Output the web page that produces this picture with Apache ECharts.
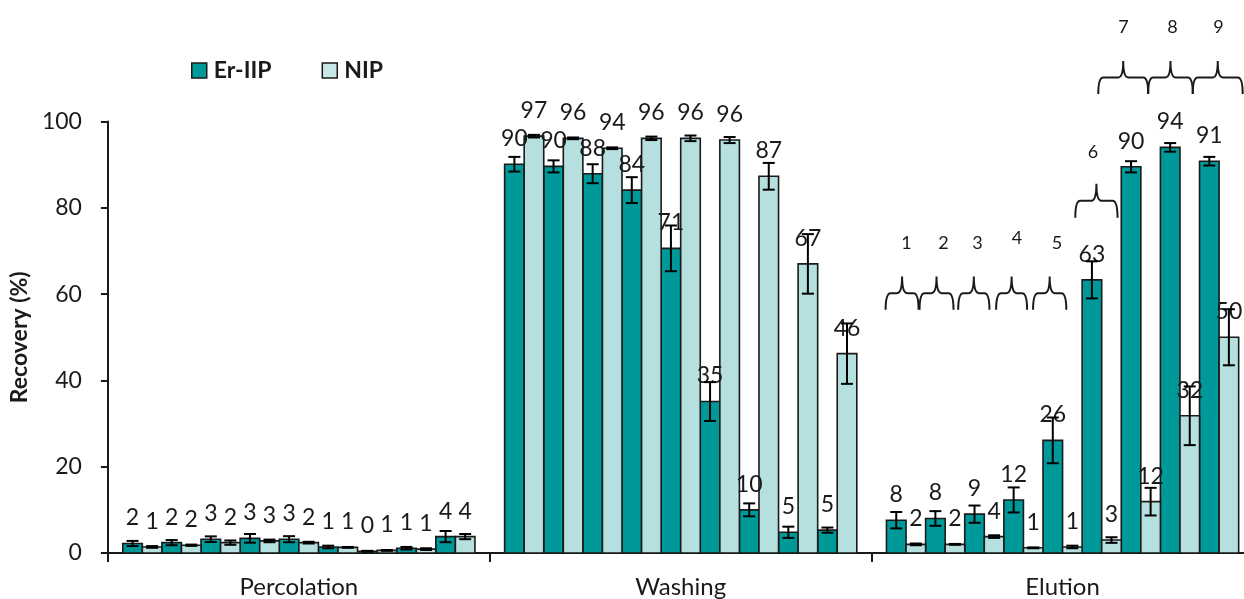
<!DOCTYPE html>
<html>
<head>
<meta charset="utf-8">
<script src="https://cdn.jsdelivr.net/npm/echarts/dist/echarts.min.js"></script>
<style>
html,body{margin:0;padding:0;background:#fff;overflow:hidden;}
#chart{width:1270px;height:599px;}
</style>
</head>
<body>
<div id="chart"></div>
<script>
// ---------------- data ----------------
const stages = ['Percolation', 'Washing', 'Elution'];
const seriesNames = ['Er-IIP', 'NIP'];
const yTicks = [0, 20, 40, 60, 80, 100];

// 9 steps per stage, 27 values in stage order
const erIIP = [2.2, 2.4, 3.2, 3.4, 3.2, 1.4, 0.4, 1.1, 3.8,
               90.1, 89.6, 87.9, 84.1, 70.6, 35.1, 10.0, 4.8, 5.3,
               7.6, 8.0, 9.0, 12.3, 26.1, 63.3, 89.5, 94.0, 90.8];
const erIIPErr = [0.6, 0.6, 0.65, 1.0, 0.7, 0.3, 0.1, 0.3, 1.3,
                  1.7, 1.4, 2.2, 3.0, 5.3, 4.5, 1.5, 1.3, 0.6,
                  1.9, 1.7, 2.0, 2.9, 5.3, 4.3, 1.3, 1.0, 1.0];
const nip = [1.4, 1.8, 2.4, 2.8, 2.4, 1.3, 0.6, 0.9, 3.8,
             96.6, 96.1, 93.8, 96.1, 96.1, 95.7, 87.3, 67.0, 46.2,
             2.0, 2.0, 3.8, 1.2, 1.4, 3.0, 11.9, 31.8, 50.0];
const nipErr = [0.2, 0.15, 0.5, 0.3, 0.2, 0.1, 0.1, 0.2, 0.6,
                0.3, 0.2, 0.2, 0.4, 0.65, 0.7, 3.1, 6.9, 7.0,
                0.2, 0.1, 0.3, 0.1, 0.3, 0.65, 3.2, 6.8, 6.5];

// annotation braces (numbers 1..9) in data units: [x0, x1, yEnd, yTip, labelX, labelY]
const braceNumbers = ['1', '2', '3', '4', '5', '6', '7', '8', '9'];
const braceLayout = [
  [2.0366, 2.1229, 56.4, 64.05, 2.0915, 71.9],
  [2.1255, 2.2144, 56.4, 64.05, 2.1882, 71.9],
  [2.2267, 2.3085, 56.4, 64.05, 2.2771, 71.9],
  [2.3260, 2.4071, 56.4, 64.05, 2.3809, 73.0],
  [2.4227, 2.5098, 56.4, 64.05, 2.4855, 71.9],
  [2.5333, 2.6439, 77.7, 85.55, 2.5796, 93.0],
  [2.5935, 2.7242, 106.4, 114.0, 2.6596, 121.9],
  [2.7242, 2.8410, 106.4, 114.0, 2.7877, 121.9],
  [2.8410, 2.9717, 106.4, 114.0, 2.9080, 121.9]
];

// ---------------- styles ----------------
const FONT = 'Lato, "Open Sans", sans-serif';
const INK = '#1a1a1a';
const colors = ['#009999', '#b6e0e0'];
const PER_STAGE = 9;
const SLOT_W = 0.05124;                       // bar width in stage units
const MARGIN = (1 - 2 * PER_STAGE * SLOT_W) / 2;

function slotX(i, s) {
  const g = Math.floor(i / PER_STAGE), p = i % PER_STAGE;
  return g + MARGIN + (2 * p + s) * SLOT_W;
}

function barRenderer(s) {
  return function (params, api) {
    const i = api.value(0), v = api.value(1);
    const x0 = slotX(i, s);
    const tl = api.coord([x0, v]);
    const br = api.coord([x0 + SLOT_W, 0]);
    return {
      type: 'rect',
      shape: { x: tl[0], y: tl[1], width: br[0] - tl[0], height: br[1] - tl[1] },
      style: { fill: colors[s], stroke: INK, lineWidth: 1.6 }
    };
  };
}

function errRenderer(s) {
  return function (params, api) {
    const i = api.value(0), v = api.value(1), e = api.value(2);
    const xc = slotX(i, s) + SLOT_W / 2;
    const top = api.coord([xc, v]);
    const hi = api.coord([xc, v + e]);
    const lo = api.coord([xc, v - e]);
    const cap = 6;
    const lw = 2;
    return {
      type: 'group',
      children: [
        { type: 'text', z2: 1,
          style: { text: String(Math.round(v)), x: top[0], y: top[1] - 14,
                   align: 'center', verticalAlign: 'bottom',
                   fontFamily: FONT, fontSize: 23, fill: INK } },
        { type: 'line', z2: 2, shape: { x1: hi[0], y1: hi[1], x2: lo[0], y2: lo[1] },
          style: { stroke: '#000', lineWidth: lw } },
        { type: 'line', z2: 2, shape: { x1: hi[0] - cap, y1: hi[1], x2: hi[0] + cap, y2: hi[1] },
          style: { stroke: '#000', lineWidth: lw } },
        { type: 'line', z2: 2, shape: { x1: lo[0] - cap, y1: lo[1], x2: lo[0] + cap, y2: lo[1] },
          style: { stroke: '#000', lineWidth: lw } }
      ]
    };
  };
}

function braceRenderer(params, api) {
  const x0 = api.value(0), x1 = api.value(1), yEnd = api.value(2), yTip = api.value(3);
  const lx = api.value(4), ly = api.value(5);
  const a = api.coord([x0, yEnd]);
  const b = api.coord([x1, yTip]);
  const L = a[0], R = b[0], yb = a[1], yt = b[1];
  const ym = (yb + yt) / 2;
  const xm = (L + R) / 2;
  const r = 5;
  const path = 'M' + L + ',' + yb +
    ' Q' + L + ',' + ym + ' ' + (L + r) + ',' + ym +
    ' L' + (xm - r) + ',' + ym +
    ' Q' + xm + ',' + ym + ' ' + xm + ',' + yt +
    ' Q' + xm + ',' + ym + ' ' + (xm + r) + ',' + ym +
    ' L' + (R - r) + ',' + ym +
    ' Q' + R + ',' + ym + ' ' + R + ',' + yb;
  const lp = api.coord([lx, ly]);
  return {
    type: 'group',
    children: [
      { type: 'path', shape: { pathData: path },
        style: { fill: null, stroke: INK, lineWidth: 2 } },
      { type: 'text',
        style: { text: braceNumbers[params.dataIndex], x: lp[0], y: lp[1],
                 align: 'center', verticalAlign: 'middle',
                 fontFamily: FONT, fontSize: 18, fill: INK } }
    ]
  };
}

const chart = echarts.init(document.getElementById('chart'), null, { renderer: 'canvas' });

chart.setOption({
  animation: false,
  backgroundColor: '#fff',
  textStyle: { fontFamily: FONT },
  grid: { left: 106, top: 121.5, width: 1147.5, height: 432.5, containLabel: false },
  legend: {
    data: [{ name: seriesNames[0] }, { name: seriesNames[1], itemStyle: { color: '#c6e7e7' } }],
    left: 186, top: 54, icon: 'rect', itemWidth: 15, itemHeight: 15, itemGap: 50,
    itemStyle: { borderColor: INK, borderWidth: 1.5 },
    textStyle: { fontFamily: FONT, fontWeight: 'bold', fontSize: 23, color: INK, padding: [0, 0, 0, 2] }
  },
  xAxis: [
    { type: 'value', min: 0, max: 3, show: false },
    {
      type: 'category', data: stages, position: 'bottom', boundaryGap: true,
      axisLine: { show: true, onZero: false, lineStyle: { color: INK, width: 2 } },
      axisTick: { show: true, length: 9, interval: 0, lineStyle: { color: INK, width: 2 } },
      axisLabel: { interval: 0, fontFamily: FONT, fontSize: 24, color: INK, margin: 22 },
      splitLine: { show: false }
    }
  ],
  yAxis: {
    type: 'value', min: yTicks[0], max: yTicks[yTicks.length - 1], interval: 20,
    name: 'Recovery (%)', nameLocation: 'middle', nameGap: 62,
    nameTextStyle: { fontFamily: FONT, fontWeight: 'bold', fontSize: 23, color: INK },
    axisLine: { show: true, lineStyle: { color: INK, width: 2 } },
    axisTick: { show: true, length: 7, lineStyle: { color: INK, width: 2 } },
    axisLabel: { fontFamily: FONT, fontSize: 23, color: INK, margin: 26 },
    splitLine: { show: false }
  },
  series: [
    { name: seriesNames[0], type: 'custom', xAxisIndex: 0, z: 2,
      itemStyle: { color: colors[0] }, renderItem: barRenderer(0),
      data: erIIP.map((v, i) => [i, v]) },
    { name: seriesNames[1], type: 'custom', xAxisIndex: 0, z: 2,
      itemStyle: { color: colors[1] }, renderItem: barRenderer(1),
      data: nip.map((v, i) => [i, v]) },
    { name: seriesNames[0] + ' err', type: 'custom', xAxisIndex: 0, z: 4, clip: false,
      renderItem: errRenderer(0), data: erIIP.map((v, i) => [i, v, erIIPErr[i]]) },
    { name: seriesNames[1] + ' err', type: 'custom', xAxisIndex: 0, z: 4, clip: false,
      renderItem: errRenderer(1), data: nip.map((v, i) => [i, v, nipErr[i]]) },
    { name: 'braces', type: 'custom', xAxisIndex: 0, z: 5, clip: false, silent: true,
      renderItem: braceRenderer, data: braceLayout }
  ]
});
</script>
</body>
</html>
